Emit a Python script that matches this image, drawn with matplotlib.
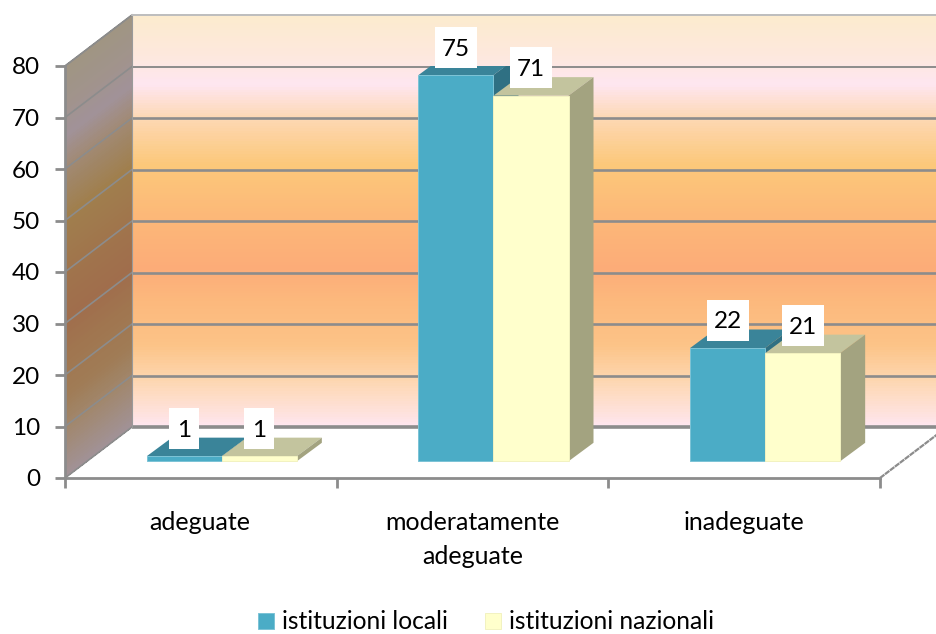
import numpy as np
import matplotlib
matplotlib.use("Agg")
import matplotlib.pyplot as plt
from matplotlib.patches import Polygon, Rectangle

plt.rcParams['font.family'] = ['Lato', 'DejaVu Sans']

categories = ['adeguate', 'moderatamente\nadeguate', 'inadeguate']
locali = [1, 75, 22]
nazionali = [1, 71, 21]
series_names = ['istituzioni locali', 'istituzioni nazionali']
yticks = [0, 10, 20, 30, 40, 50, 60, 70, 80]

# gradient of the wall: (level on the wall, colour)
grad_pos = [0, 5, 10, 16, 24, 31, 41, 51, 60, 66.5, 72, 80]
grad_rgb = np.array([(254, 230, 240), (254, 222, 205), (253, 212, 170), (252, 195, 135), (252, 185, 125),
                     (252, 172, 120), (252, 184, 120), (252, 200, 122), (253, 216, 180),
                     (254, 230, 240), (253, 232, 222), (252, 235, 205)]) / 255

W, H = 937, 634
fig = plt.figure(figsize=(W / 100, H / 100), dpi=100, facecolor='white')
ax = fig.add_axes([65 / W, (H - 478) / H, 815 / W, 412 / H])
ax.set_xlim(0, 3)
ax.set_ylim(0, 80)
ax.set_facecolor('none')
PX = 3 / 815
PY = 80 / 412
wall_dx, wall_dy = 67 * PX, 51 * PY
base_dx, base_dy = 21 * PX, 16.7 * PY
dep_dx, dep_dy = 25 * PX, 18.5 * PY
GRID = '#8C8C8C'


def gradient(v):
    return np.stack([np.interp(v, grad_pos, grad_rgb[:, i]) for i in range(3)], axis=-1)


# walls
v_edges = np.linspace(0, 80, 161)
v_mid = (v_edges[:-1] + v_edges[1:]) / 2
d_edges = np.linspace(0, 1, 2)
D, V = np.meshgrid(d_edges, v_edges)
ax.pcolormesh(D * wall_dx, V + D * wall_dy, (gradient(v_mid) * 0.635)[:, None, :],
              shading='flat', clip_on=False, linewidth=0, antialiased=False, zorder=1)
D, V = np.meshgrid(np.array([wall_dx, 3 + wall_dx]), v_edges)
ax.pcolormesh(D, V + wall_dy, gradient(v_mid)[:, None, :],
              shading='flat', clip_on=False, linewidth=0, antialiased=False, zorder=1)

# grid lines
for t in yticks:
    lw = 1.9 if t in (10, 20, 30, 40, 50, 60) else 1.4
    if t > 0:
        ax.plot([wall_dx, 3 + wall_dx], [t + wall_dy] * 2, color=GRID, lw=lw, clip_on=False, zorder=2,
                solid_capstyle='butt')
    ax.plot([0, wall_dx], [t, t + wall_dy], color=GRID, lw=1.2, clip_on=False, zorder=2)
ax.plot([wall_dx, 3 + wall_dx], [wall_dy] * 2, color=GRID, lw=2.6, clip_on=False, zorder=2,
        solid_capstyle='butt')
ax.plot([3, 3 + wall_dx], [0, wall_dy], color=GRID, lw=1.6, ls=(0, (2.5, 0.3)), clip_on=False, zorder=2)
ax.plot([wall_dx, wall_dx], [wall_dy, 80 + wall_dy], color='#9A9A9A', lw=0.8, clip_on=False, zorder=2)
ax.plot([0, wall_dx], [80, 80 + wall_dy], color=GRID, lw=1.0, clip_on=False, zorder=2)
ax.plot([wall_dx, 3 + wall_dx], [80 + wall_dy] * 2, color='#C8C8C8', lw=1.2, clip_on=False, zorder=2)

# bars
x_cat = np.arange(3) + 0.5 + base_dx
bar_w = 75 * PX
styles = [('#4BACC6', '#3A8499', '#2F7083', '#7CC3D6'), ('#FFFFCC', '#C3C49E', '#A3A380', '#F2F2C0')]
legend_handles = []
label_info = []
for s, vals in enumerate([locali, nazionali]):
    front, top, side, edge = styles[s]
    xs = x_cat + (s - 0.5) * bar_w
    z = 3 + s
    h = ax.bar(xs, vals, width=bar_w, bottom=base_dy, color=front, edgecolor=edge, linewidth=0.7, zorder=z + 0.2)
    legend_handles.append(h)
    for x, v in zip(xs, vals):
        l, r = x - bar_w / 2, x + bar_w / 2
        b, t = base_dy, base_dy + v
        ax.add_patch(Polygon([(l, t), (r, t), (r + dep_dx, t + dep_dy), (l + dep_dx, t + dep_dy)],
                             closed=True, facecolor=top, edgecolor='none', zorder=z))
        ax.add_patch(Polygon([(r, b), (r, t), (r + dep_dx, t + dep_dy), (r + dep_dx, b + dep_dy)],
                             closed=True, facecolor=side, edgecolor='none', zorder=z))
        label_info.append((x, t, v))

# value labels
for x, t, v in label_info:
    txt = str(v)
    bw = (42 if len(txt) == 2 else 30) * PX
    bh = 41 * PY
    cy = t + 28 * PY
    ax.add_patch(Rectangle((x - bw / 2, cy - bh / 2), bw, bh, facecolor='white', edgecolor='none',
                           zorder=8, clip_on=False))
    ax.text(x, cy, txt, ha='center', va='center_baseline', fontsize=17.5, color='black', zorder=9)

# axes
for name in ('top', 'right'):
    ax.spines[name].set_visible(False)
for name in ('left', 'bottom'):
    ax.spines[name].set_color(GRID)
    ax.spines[name].set_linewidth(2.0)
    ax.spines[name].set_zorder(2.5)
ax.set_yticks(yticks)
ax.set_yticklabels([str(t) for t in yticks], fontsize=17.5)
ax.set_xticks([0, 1, 2, 3])
ax.set_xticklabels([])
ax.set_xticks([0.495, 1.5, 2.5], minor=True)
ax.set_xticklabels(categories, minor=True, fontsize=18, linespacing=1.55)
ax.tick_params(axis='y', which='major', length=7, width=2.0, color=GRID, pad=11)
ax.tick_params(axis='x', which='major', length=7, width=2.0, color=GRID)
ax.tick_params(axis='x', which='minor', length=0, pad=24)

fig.legend([h[0] for h in legend_handles], series_names, loc='lower center',
           bbox_to_anchor=(486 / W, -0.034), ncol=2, frameon=False, fontsize=17.7,
           handlelength=0.65, handleheight=0.65, handletextpad=0.33, columnspacing=1.5)

fig.savefig('out.png', dpi=100, facecolor='white')
